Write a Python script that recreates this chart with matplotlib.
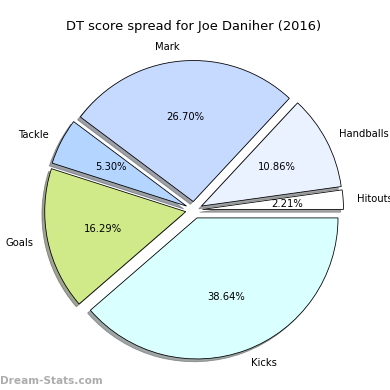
import matplotlib
matplotlib.use("Agg")
import matplotlib.pyplot as plt

# data, clockwise from 3 o'clock
labels = ["Kicks", "Goals", "Tackle", "Mark", "Handballs", "Hitouts"]
values = [38.64, 16.29, 5.30, 26.70, 10.86, 2.21]
colors = ["#d9ffff", "#d0ea8a", "#b3d5ff", "#c6d9ff", "#eaf1ff", "#ffffff"]
explode = [0.06] * len(values)

fig = plt.figure(figsize=(390 / 72, 390 / 72), dpi=72)
ax = fig.add_axes([0.0455, 0.0096, 0.904, 0.904])

ax.pie(values, labels=labels, colors=colors, explode=explode,
       autopct="%.2f%%", startangle=0, counterclock=False, shadow=True,
       wedgeprops={"edgecolor": "black", "linewidth": 0.8},
       textprops={"fontsize": 10})
ax.set_aspect("equal")
ax.set_title("DT score spread for Joe Daniher (2016)", fontsize=13, pad=4)

fig.text(0.0, 0.01, "Dream-Stats.com", color="#999999", fontsize=10.5,
         fontweight="bold", ha="left", va="bottom", alpha=0.8)

fig.savefig("out.png", dpi=72)
